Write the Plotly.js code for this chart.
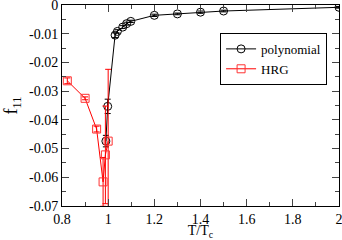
<!DOCTYPE html>
<html><head><meta charset="utf-8">
<script src="https://cdn.plot.ly/plotly-3.0.1.min.js"></script>
<style>html,body{margin:0;padding:0;background:#fff;overflow:hidden}#c{width:342px;height:240px}</style>
</head><body><div id="c"></div>
<script>
var polyT = [0.99, 0.998, 1.03, 1.04, 1.063, 1.08, 1.098, 1.2, 1.3, 1.4, 1.5, 2.0];
var polyF = [-0.0474, -0.0353, -0.0105, -0.0092, -0.0077, -0.0065, -0.0057, -0.0036, -0.0031, -0.0025, -0.0021, -0.0008];
var polyErr = [0.002, 0.0025, 0.0008, 0.0006, 0.0005, 0.0005, 0.0004, 0.0004, 0.0003, 0.0004, 0.0003, 0.0003];
var hrgT = [0.823, 0.9, 0.95, 0.978, 0.988, 1.0];
var hrgF = [-0.0264, -0.0325, -0.0432, -0.0616, -0.0522, -0.0474];
var hrgErr = [0.001, 0.0005, 0.001, 0.0085, 0.017, 0.025];
var yTicks = [0, -0.01, -0.02, -0.03, -0.04, -0.05, -0.06, -0.07];
var yLabels = ["0", "-0.01", "-0.02", "-0.03", "-0.04", "-0.05", "-0.06", "-0.07"];
var xTicks = [0.8, 1, 1.2, 1.4, 1.6, 1.8, 2];
var xLabels = ["0.8", "1", "1.2", "1.4", "1.6", "1.8", "2"];

var serif = "Liberation Serif";
var traces = [
  {x: polyT, y: polyF, name: "polynomial", mode: "lines+markers", type: "scatter",
   line: {color: "#000", width: 1},
   marker: {symbol: "circle-open", size: 8, color: "#000", line: {width: 1}},
   error_y: {type: "data", array: polyErr, visible: true, color: "#000", thickness: 1, width: 3}},
  {x: hrgT, y: hrgF, name: "HRG", mode: "lines+markers", type: "scatter",
   line: {color: "#ff0000", width: 1},
   marker: {symbol: "square-open", size: 8, color: "#ff3333", line: {width: 1}},
   error_y: {type: "data", array: hrgErr, visible: true, color: "#ff0000", thickness: 1, width: 3}}
];
var layout = {
  width: 342, height: 240,
  margin: {l: 62, r: 3, t: 5, b: 34, autoexpand: false},
  paper_bgcolor: "#fff", plot_bgcolor: "#fff",
  font: {family: serif, size: 14, color: "#000"},
  showlegend: true,
  legend: {x: 0.957, y: 0.861, xanchor: "right", yanchor: "top", bgcolor: "#fff",
           bordercolor: "#000", borderwidth: 1, font: {family: serif, size: 13},
           tracegroupgap: 0, itemwidth: 30},
  xaxis: {range: [0.8, 2], tickvals: xTicks, ticktext: xLabels, ticks: "inside", ticklen: 7,
          showline: true, linecolor: "#000", linewidth: 1, mirror: "ticks", showgrid: false, zeroline: false,
          tickfont: {family: serif, size: 14}, ticklabeloverflow: "allow", automargin: false,
          minor: {dtick: 0.1, ticks: "inside", ticklen: 4, showgrid: false},
          title: {text: "T/T<sub>c</sub>", font: {family: serif, size: 14}, standoff: 2}},
  yaxis: {range: [-0.07, 0], tickvals: yTicks, ticktext: yLabels, ticks: "inside", ticklen: 7,
          showline: true, linecolor: "#000", linewidth: 1, mirror: "ticks", showgrid: false, zeroline: false,
          tickfont: {family: serif, size: 14}, ticklabeloverflow: "allow", automargin: false,
          minor: {dtick: 0.005, ticks: "inside", ticklen: 4, showgrid: false},
          title: {text: "f<sub>11</sub>", font: {family: serif, size: 18}, standoff: 6}}
};
Plotly.newPlot("c", traces, layout, {staticPlot: true, displayModeBar: false});
</script></body></html>
